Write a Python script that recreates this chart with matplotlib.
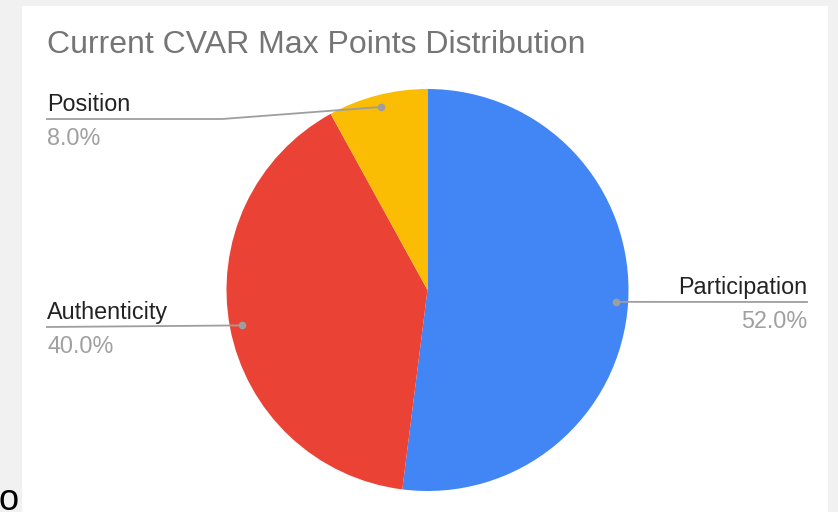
import matplotlib
matplotlib.use('Agg')
import matplotlib.pyplot as plt
from matplotlib.patches import Rectangle
import numpy as np

# data
labels = ['Participation', 'Authenticity', 'Position']
values = [52, 40, 8]
colors = ['#4285F4', '#EA4335', '#FBBC04']
title = 'Current CVAR Max Points Distribution'

W, H = 838, 512
plt.rcParams['font.family'] = ['Liberation Sans', 'DejaVu Sans']

fig = plt.figure(figsize=(W / 100, H / 100), dpi=100)
fig.patch.set_facecolor('#f1f1f1')
ax = fig.add_axes([0, 0, 1, 1])

def Y(y):
    return H - y

# white chart card
ax.add_patch(Rectangle((22, 0), 806, H - 6, facecolor='white', edgecolor='none', zorder=0))

cx, cy, R = 427.5, Y(290), 201
wedges, _ = ax.pie(values, colors=colors, startangle=90, counterclock=False,
                   center=(cx, cy), radius=R,
                   wedgeprops=dict(linewidth=0, edgecolor='none'))
ax.set_xlim(0, W)
ax.set_ylim(0, H)
ax.set_aspect('equal')
ax.axis('off')

ax.text(47, Y(53), title, fontsize=23, color='#757575', ha='left', va='baseline')

total = sum(values)
line_c = '#9e9e9e'
# label layout: (text x, line y, elbow x, ha)
layout = {
    'Participation': (807, 302, None, 'right'),
    'Authenticity': (47, 327, None, 'left'),
    'Position': (47, 119, 222, 'left'),
}
for w, lab, v in zip(wedges, labels, values):
    ang = np.deg2rad((w.theta1 + w.theta2) / 2)
    dx, dy = cx + 0.94 * R * np.cos(ang), cy + 0.94 * R * np.sin(ang)
    tx, lny, elbow, ha = layout[lab]
    if elbow is None:
        xs, ys = [tx, dx], [Y(lny), dy]
    else:
        xs, ys = [tx, elbow, dx], [Y(lny), Y(lny), dy]
    ax.plot(xs, ys, color=line_c, lw=1.3, zorder=5)
    ax.plot([dx], [dy], 'o', ms=4.5, color=line_c, zorder=6)
    ax.text(tx, Y(lny - 8), lab, fontsize=16.8, color='#222222', ha=ha, va='baseline')
    ax.text(tx, Y(lny + 26), f'{v / total * 100:.1f}%', fontsize=16.8,
            color='#a0a0a0', ha=ha, va='baseline')

# stray character at the bottom left edge of the screenshot
ax.text(-2, Y(510), 'o', fontsize=26, color='black', ha='left', va='baseline')

fig.savefig('out.png', dpi=100, facecolor=fig.get_facecolor())
